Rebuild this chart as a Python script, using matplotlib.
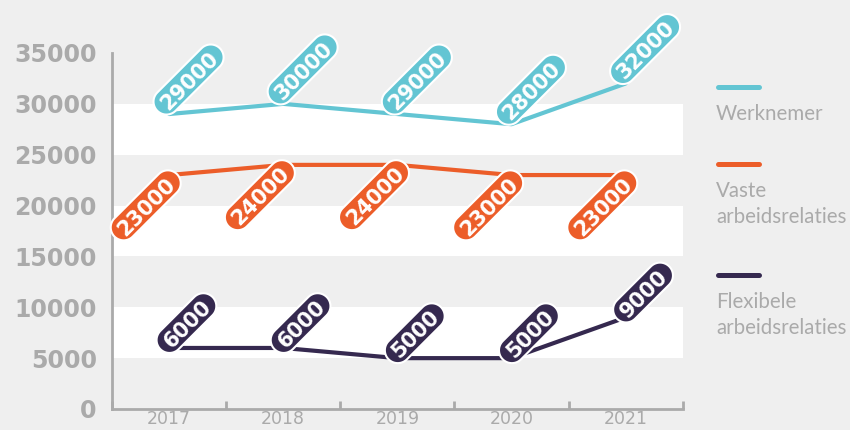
import matplotlib
matplotlib.use('Agg')
import numpy as np
import matplotlib.pyplot as plt
from matplotlib.lines import Line2D
from matplotlib.path import Path

# ---- data ----
years = ['2017', '2018', '2019', '2020', '2021']
werknemer = [29000, 30000, 29000, 28000, 32000]
vaste = [23000, 24000, 24000, 23000, 23000]
flexibele = [6000, 6000, 5000, 5000, 9000]
y_ticks = [0, 5000, 10000, 15000, 20000, 25000, 30000, 35000]
series_names = [['Werknemer'], ['Vaste', 'arbeidsrelaties'], ['Flexibele', 'arbeidsrelaties']]

# ---- style ----
BG = '#efefef'
GREY = '#aaaaaa'
CYAN = '#63c5d3'
ORANGE = '#ec5d29'
PURPLE = '#35294f'

W, H = 850, 430
fig = plt.figure(figsize=(W / 100, H / 100), dpi=100)
fig.patch.set_facecolor(BG)

ax = fig.add_axes([112 / W, 1 - 409 / H, (682.7 - 112) / W, (409 - 53) / H])
ax.set_facecolor(BG)
ax.set_xlim(-0.5, len(years) - 0.5)
ax.set_ylim(0, 35000)

# alternating white bands
for lo in (5000, 15000, 25000):
    ax.axhspan(lo, lo + 5000, color='white', lw=0, zorder=0)

for s in ('top', 'right'):
    ax.spines[s].set_visible(False)
for s in ('left', 'bottom'):
    ax.spines[s].set_color(GREY)
    ax.spines[s].set_linewidth(2)
    ax.spines[s].set_capstyle('projecting')

x = list(range(len(years)))
ax.set_xticks([i - 0.5 for i in range(len(years) + 1)])
ax.set_xticklabels([])
ax.tick_params(axis='x', which='major', direction='in', length=6, width=2, color=GREY)
ax.set_xticks(x, minor=True)
ax.set_xticklabels(years, minor=True)
ax.tick_params(axis='x', which='minor', length=0, pad=0.8, labelsize=12.5, labelcolor=GREY)

ax.set_yticks(y_ticks)
ax.set_yticklabels([str(v) for v in y_ticks])
ax.tick_params(axis='y', length=0, pad=11, labelsize=17, labelcolor=GREY)
for t in ax.get_yticklabels():
    t.set_fontweight('bold')


def pill(x0, y0, width, height, mutation_size):
    """Rounded 'pill' box with full semicircular ends, centred on the digits."""
    px = 0.38 * mutation_size
    py = 0.14 * mutation_size
    x0 = x0 - px
    y0 = y0 - py + 0.09 * mutation_size
    w = width + 2 * px
    h = height + 2 * py
    r = h / 2.0
    w = max(w, h)
    t1 = np.linspace(-np.pi / 2, np.pi / 2, 24)
    t2 = np.linspace(np.pi / 2, 3 * np.pi / 2, 24)
    right = np.column_stack([x0 + w - r + r * np.cos(t1), y0 + r + r * np.sin(t1)])
    left = np.column_stack([x0 + r + r * np.cos(t2), y0 + r + r * np.sin(t2)])
    verts = np.vstack([right, left, right[:1]])
    codes = [Path.MOVETO] + [Path.LINETO] * (len(verts) - 2) + [Path.CLOSEPOLY]
    return Path(verts, codes)


# (series values, colour, label alignment, label offset in points)
series = [
    (werknemer, CYAN, 'left', (-3.5, 5.4)),
    (vaste, ORANGE, 'right', (2.6, -4.3)),
    (flexibele, PURPLE, 'left', (-1.3, 2.2)),
]
for vals, col, ha, off in series:
    ax.plot(x, vals, color=col, lw=3, solid_capstyle='round', zorder=2)
    for xi, v in zip(x, vals):
        ax.annotate(f'{v}', xy=(xi, v), xytext=off, textcoords='offset points',
                    ha=ha, va='center', rotation=45, rotation_mode='anchor',
                    fontsize=15, fontweight='bold', color='white', zorder=5,
                    bbox=dict(boxstyle=pill, fc=col, ec='white', lw=1.5))

# ---- legend (drawn manually on the right) ----
leg_y_line = [86.7, 163.7, 275]
leg_baselines = [[120], [196.7, 222.7], [308.3, 334.3]]
for col, yl, bases, lines in zip([CYAN, ORANGE, PURPLE], leg_y_line, leg_baselines, series_names):
    fig.add_artist(Line2D([717.5 / W, 758.5 / W], [1 - yl / H, 1 - yl / H],
                          transform=fig.transFigure, color=col, lw=3.6,
                          solid_capstyle='round'))
    for txt, b in zip(lines, bases):
        fig.text(716 / W, 1 - b / H, txt, ha='left', va='baseline',
                 fontsize=14.8, color=GREY, family='Lato')

fig.savefig('out.png', dpi=100, facecolor=BG)
